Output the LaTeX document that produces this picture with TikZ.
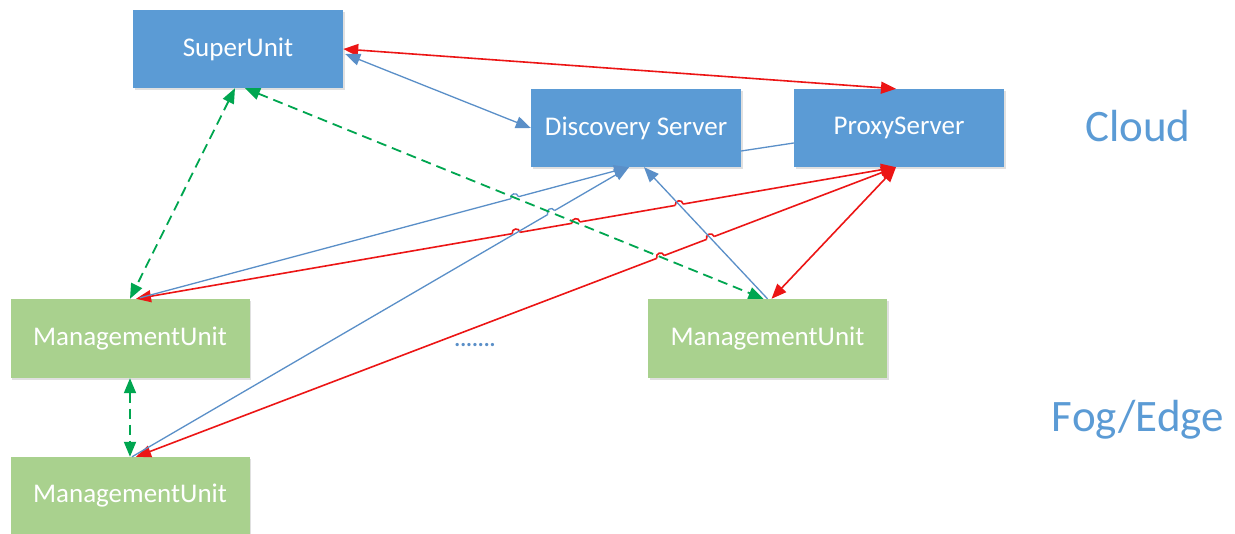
\documentclass[tikz,border=0pt]{standalone}
\usepackage{fontspec}
\setmainfont{Carlito}
\usetikzlibrary{arrows.meta,calc,intersections,shadows}
\definecolor{boxblue}{HTML}{5B9BD5}
\definecolor{boxgreen}{HTML}{A9D18E}
\definecolor{linkblue}{HTML}{5A8FC8}
\definecolor{linkred}{HTML}{EC1515}
\definecolor{linkgreen}{HTML}{00A650}
\newcommand\hopover[4]{%
  \coordinate (hopA) at ($(#1)!4pt!(#2)$);
  \coordinate (hopB) at ($(#1)!4pt!(#3)$);
  \draw[white, line width=3pt] (hopA) -- (hopB);
  \draw[#4] (hopA) .. controls ($(hopA)!5.3pt!90:(hopB)$) and ($(hopB)!5.3pt!-90:(hopA)$) .. (hopB);
}
\begin{document}
\begin{tikzpicture}[x=1pt,y=-1pt,
  both/.style={arrows={Triangle[length=15pt,width=12pt]-Triangle[length=15pt,width=12pt]}},
  tohead/.style={arrows={-Triangle[length=15pt,width=12pt]}},
  cloudbox/.style={fill=boxblue, minimum width=210pt, minimum height=78pt, text=white,
    font=\fontsize{27}{32}\selectfont, inner sep=0pt,
    drop shadow={shadow xshift=1.5pt, shadow yshift=-2.5pt, fill=black, opacity=0.12}},
  fogbox/.style={fill=boxgreen, minimum width=239pt, minimum height=79pt, text=white,
    font=\fontsize{27}{32}\selectfont, inner sep=0pt,
    drop shadow={shadow xshift=1.5pt, shadow yshift=-2.5pt, fill=black, opacity=0.12}},
  layer/.style={text=boxblue, font=\fontsize{45}{54}\selectfont, anchor=base},
  redlink/.style={linkred, line width=1.6pt},
  bluelink/.style={linkblue, line width=1.3pt},
  greenlink/.style={linkgreen, line width=1.8pt, dash pattern=on 10pt off 6pt},
]
\fill[white] (0,0) rectangle (1235,534);
\useasboundingbox (0,0) rectangle (1235,534);

% nodes
\node[cloudbox] (su) at (238,49) {SuperUnit};
\node[cloudbox] (ds) at (636,128) {Discovery Server};
\node[cloudbox] (ps) at (899,128) {ProxyServer};
\node[fogbox] (m1) at (130,338.5) {ManagementUnit};
\node[fogbox, minimum height=78pt] (m2) at (130,496) {ManagementUnit};
\node[fogbox] (m3) at (767.5,338.5) {ManagementUnit};
\node[layer] (cloud) at (1138,142) {Cloud};
\node[layer] (fog) at (1138,432) {Fog/Edge};
\node[text=linkblue, font=\fontsize{22}{26}\selectfont\bfseries, anchor=base] (dots) at (475,347) {.......};

% end points
\coordinate (r1a) at ($(su.east)+(0,0)$);
\coordinate (r1b) at ($(ps.north)+(-3,0)$);
\coordinate (b2a) at ($(su.east)+(2,5)$);
\coordinate (b2b) at (ds.west);
\coordinate (b3a) at ($(ds.east)+(0,23)$);
\coordinate (b3b) at ($(ps.west)+(0,15)$);
\coordinate (g4a) at ($(su.south)+(-3,0)$);
\coordinate (g4b) at ($(m1.north)+(0,0)$);
\coordinate (g5a) at ($(su.south)+(7,0)$);
\coordinate (g5b) at ($(m3.north)+(-4,0)$);
\coordinate (b7a) at ($(m1.north)+(10,-1)$);
\coordinate (b8a) at ($(m2.north)+(2,0)$);
\coordinate (b78b) at ($(ds.south)+(-7,0)$);
\coordinate (b9a) at (m3.north);
\coordinate (b9b) at ($(ds.south)+(8,0)$);
\coordinate (r10a) at ($(m1.north)+(6,0)$);
\coordinate (r11a) at ($(m2.north)+(6,0)$);
\coordinate (r12a) at ($(m3.north)+(4,0)$);
\coordinate (rpb) at ($(ps.south)+(-3,0)$);

% paths for crossings
\path[name path=g5] (g5a) -- (g5b);
\path[name path=b7] (b7a) -- (b78b);
\path[name path=b8] (b8a) -- (b78b);
\path[name path=b9] (b9a) -- (b9b);
\path[name path=r10] (r10a) -- (rpb);
\path[name path=r11] (r11a) -- (rpb);
\path[name intersections={of=r10 and b8, by=x1}];
\path[name intersections={of=r10 and g5, by=x2}];
\path[name intersections={of=r10 and b9, by=x3}];
\path[name intersections={of=r11 and g5, by=x4}];
\path[name intersections={of=r11 and b9, by=x5}];
\path[name intersections={of=b7 and g5, by=x6}];
\path[name intersections={of=b8 and g5, by=x7}];

% red connectors
\draw[redlink, both] (r1a) -- (r1b);
\draw[redlink, both] (r10a) -- (rpb);
\draw[redlink, both] (r11a) -- (rpb);
\draw[redlink, both] (r12a) -- (rpb);
\hopover{x1}{r10a}{rpb}{redlink}
\hopover{x2}{r10a}{rpb}{redlink}
\hopover{x3}{r10a}{rpb}{redlink}
\hopover{x4}{r11a}{rpb}{redlink}
\hopover{x5}{r11a}{rpb}{redlink}

% blue connectors
\draw[bluelink, both] (b2a) -- (b2b);
\draw[bluelink] (b3a) -- (b3b);
\draw[bluelink, tohead] (b7a) -- (b78b);
\draw[bluelink, tohead] (b8a) -- (b78b);
\draw[bluelink, tohead] (b9a) -- (b9b);
\hopover{x6}{b7a}{b78b}{bluelink}
\hopover{x7}{b8a}{b78b}{bluelink}

% green connectors
\draw[greenlink, both] (g4a) -- (g4b);
\draw[greenlink, both] (g5a) -- (g5b);
\draw[greenlink, both] (m1.south) -- (m2.north);
\end{tikzpicture}
\end{document}
